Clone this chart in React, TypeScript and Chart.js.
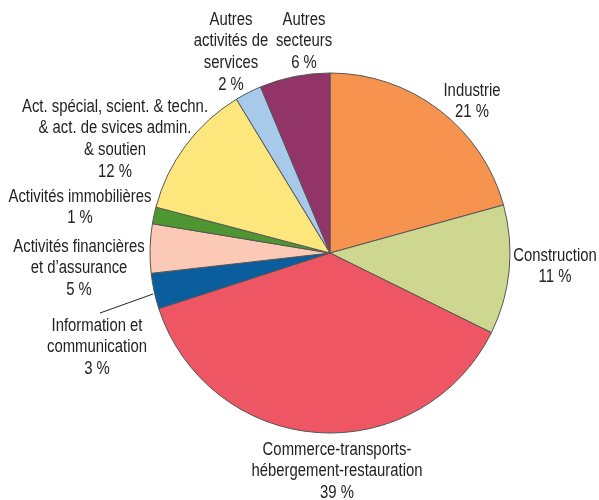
import React, { useEffect, useRef } from "react";
import { Chart, registerables } from "chart.js";

Chart.register(...registerables);

const categories = [
  ["Industrie"],
  ["Construction"],
  ["Commerce-transports-", "hébergement-restauration"],
  ["Information et", "communication"],
  ["Activités financières", "et d’assurance"],
  ["Activités immobilières"],
  ["Act. spécial, scient. & techn.", "& act. de svices admin.", "& soutien"],
  ["Autres", "activités de", "services"],
  ["Autres", "secteurs"],
];

const shares = [20.7, 11.6, 37.7, 3.2, 4.4, 1.5, 12.2, 2.4, 6.3];
const percentLabels = ["21 %", "11 %", "39 %", "3 %", "5 %", "1 %", "12 %", "2 %", "6 %"];

const colors = [
  "#F6934F",
  "#CED78F",
  "#EF5664",
  "#0A5E9E",
  "#FBC9B5",
  "#4E9632",
  "#FDE67B",
  "#A7CAEA",
  "#923468",
];

// label anchors: offset from pie centre (x of line centre, y of first line)
const LABEL_POS: [number, number][] = [
  [142, -162],
  [225, 3],
  [7, 197],
  [-233, 73],
  [-251, -6],
  [-250, -56],
  [-215, -146],
  [-99, -233],
  [-26, -233],
];
const LINE_H = 21.6;
const TEXT_SCALE_X = 0.85;

const labelPlugin = {
  id: "sliceLabels",
  afterDraw(chart: any) {
    const meta = chart.getDatasetMeta(0);
    const arc = meta.data[0];
    if (!arc) return;
    const cx = arc.x;
    const cy = arc.y;
    const ctx = chart.ctx;
    ctx.save();
    ctx.fillStyle = "#222";
    ctx.font = '17.5px "Liberation Sans", Arial, sans-serif';
    ctx.textAlign = "center";
    ctx.textBaseline = "middle";
    categories.forEach((lines, i) => {
      const [dx, dy] = LABEL_POS[i];
      const all = [...lines, percentLabels[i]];
      all.forEach((t, k) => {
        ctx.save();
        ctx.translate(cx + dx, cy + dy + k * LINE_H);
        ctx.scale(TEXT_SCALE_X, 1);
        ctx.fillText(t, 0, 0);
        ctx.restore();
      });
    });
    // leader line for Information et communication
    ctx.strokeStyle = "#222";
    ctx.lineWidth = 1;
    ctx.beginPath();
    ctx.moveTo(cx - 230, cy + 60);
    ctx.lineTo(cx - 177, cy + 41);
    ctx.stroke();
    ctx.restore();
  },
};

export default function App() {
  const ref = useRef<HTMLCanvasElement>(null);
  useEffect(() => {
    if (!ref.current) return;
    const chart = new Chart(ref.current, {
      type: "pie",
      data: {
        labels: categories.map((c) => c.join(" ")),
        datasets: [
          {
            data: shares,
            backgroundColor: colors,
            borderColor: "#555555",
            borderWidth: 1,
          },
        ],
      },
      options: {
        responsive: false,
        animation: false,
        radius: 180,
        layout: { padding: { left: 150, right: 89, top: 73, bottom: 67 } },
        plugins: {
          legend: { display: false },
          tooltip: { enabled: false },
        },
      },
      plugins: [labelPlugin],
    });
    return () => chart.destroy();
  }, []);
  return (
    <div style={{ position: "absolute", left: 0, top: 0, width: 599, height: 500, background: "#fff" }}>
      <canvas ref={ref} width={599} height={500} />
    </div>
  );
}
